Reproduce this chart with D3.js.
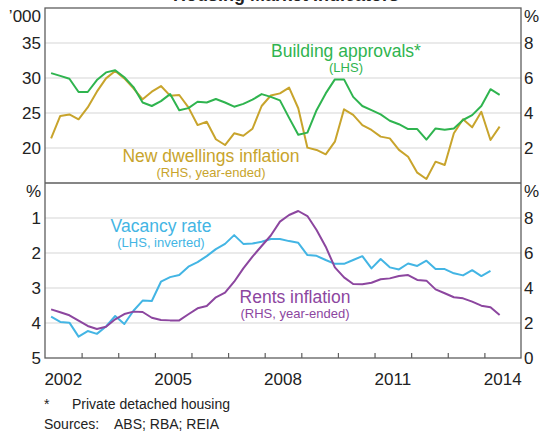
<!DOCTYPE html>
<html lang="en">
<head>
  <meta charset="UTF-8">
  <title>Housing Market Indicators</title>
  <script src="https://d3js.org/d3.v7.min.js"></script>
  <style>
    body { margin: 0; background: #fff; }
    svg { display: block; }
    text { font-family: 'Liberation Sans', Arial, sans-serif; }
  </style>
</head>
<body>
  <div id="canvas"></div>
  <script>
    // quarterly series, Mar qtr 2002 onwards
    const approvals = [30.7, 30.3, 29.9, 28.0, 28.0, 29.7, 30.8, 31.1, 30.1, 28.7,
      26.5, 26.0, 26.7, 27.7, 25.4, 25.7, 26.6, 26.5, 27.0, 26.5,
      25.9, 26.3, 26.9, 27.7, 27.3, 26.8, 24.3, 21.9, 22.2, 25.4,
      27.8, 29.8, 29.8, 27.3, 26.0, 25.4, 24.8, 23.9, 23.4, 22.7,
      22.7, 21.2, 22.8, 22.6, 22.8, 24.0, 24.7, 26.0, 28.4, 27.6];
    const dwellings = [2.55, 3.83, 3.92, 3.64, 4.32, 5.22, 5.98, 6.4, 5.98, 5.41,
      4.78, 5.22, 5.54, 4.99, 5.03, 4.32, 3.31, 3.5, 2.5, 2.17,
      2.84, 2.7, 3.1, 4.4, 5.0, 5.12, 5.45, 4.27, 2.02, 1.89,
      1.64, 2.36, 4.21, 3.89, 3.31, 3.03, 2.65, 2.55, 1.89, 1.5,
      0.59, 0.23, 1.22, 1.03, 2.84, 3.64, 3.18, 4.07, 2.46, 3.22];
    const vacancy = [3.82, 3.97, 3.99, 4.39, 4.23, 4.31, 4.1, 3.8, 4.03, 3.65,
      3.36, 3.37, 2.82, 2.69, 2.63, 2.39, 2.26, 2.09, 1.89, 1.74,
      1.49, 1.74, 1.73, 1.68, 1.6, 1.6, 1.66, 1.71, 2.06, 2.08,
      2.2, 2.31, 2.31, 2.2, 2.09, 2.44, 2.17, 2.41, 2.47, 2.3,
      2.37, 2.22, 2.46, 2.46, 2.58, 2.64, 2.49, 2.66, 2.51];
    const rents = [2.78, 2.61, 2.44, 2.13, 1.83, 1.66, 1.79, 2.21, 2.51, 2.65,
      2.63, 2.3, 2.17, 2.15, 2.15, 2.5, 2.84, 2.97, 3.47, 3.73,
      4.36, 5.12, 5.79, 6.4, 7.0, 7.79, 8.17, 8.4, 8.11, 7.31,
      6.36, 5.18, 4.61, 4.23, 4.21, 4.3, 4.5, 4.55, 4.69, 4.74,
      4.46, 4.42, 3.92, 3.7, 3.47, 3.41, 3.22, 2.99, 2.9, 2.46];

    const yearLabels = [2002, 2005, 2008, 2011, 2014];
    const topLeftTicks = [20, 25, 30, 35];
    const topRightTicks = [2, 4, 6, 8];
    const botLeftTicks = [1, 2, 3, 4, 5];
    const botRightTicks = [0, 2, 4, 6, 8];

    const width = 548;
    const height = 432;
    const padLeft = 45, padRight = 521;
    const yTop = 8, yMid = 183, yBottom = 358;

    const green = '#2fb44f', gold = '#c8a42c', blue = '#43b5e4', purple = '#8c469f';

    const quarter = i => 2002 + (2 + 3 * i) / 12;

    const scaleX = d3.scaleLinear().domain([2002, 2015]).range([padLeft, padRight]);
    const yTopL = d3.scaleLinear().domain([15, 40]).range([yMid, yTop]);
    const yTopR = d3.scaleLinear().domain([0, 10]).range([yMid, yTop]);
    const yBotL = d3.scaleLinear().domain([0, 5]).range([yMid, yBottom]);
    const yBotR = d3.scaleLinear().domain([0, 10]).range([yBottom, yMid]);

    const svg = d3.select('#canvas')
      .append('svg')
      .attr('width', width)
      .attr('height', height);

    // title, cut off at the top edge of the picture
    svg.append('text')
      .attr('x', 173)
      .attr('y', 0.5)
      .style('font-size', '18px')
      .style('font-weight', 'bold')
      .attr('fill', '#222')
      .text('Housing Market Indicators');

    // gridlines
    svg.append('g')
      .selectAll('line')
      .data(topLeftTicks)
      .enter()
      .append('line')
      .attr('x1', padLeft).attr('x2', padRight)
      .attr('y1', d => yTopL(d)).attr('y2', d => yTopL(d))
      .attr('stroke', '#d6d6d6').attr('stroke-width', 1.2);
    svg.append('g')
      .selectAll('line')
      .data(botLeftTicks.slice(0, 4))
      .enter()
      .append('line')
      .attr('x1', padLeft).attr('x2', padRight)
      .attr('y1', d => yBotL(d)).attr('y2', d => yBotL(d))
      .attr('stroke', '#d6d6d6').attr('stroke-width', 1.2);

    // lines
    const drawLine = (values, yScale, colour) => {
      const line = d3.line()
        .x((d, i) => scaleX(quarter(i)))
        .y(d => yScale(d));
      svg.append('path')
        .datum(values)
        .attr('d', line)
        .attr('fill', 'none')
        .attr('stroke', colour)
        .attr('stroke-width', 2)
        .attr('stroke-linejoin', 'round');
    };
    drawLine(dwellings, yTopR, gold);
    drawLine(approvals, yTopL, green);
    drawLine(vacancy, yBotL, blue);
    drawLine(rents, yBotR, purple);

    // frame
    const frame = '#5e5e5e';
    svg.append('rect')
      .attr('x', padLeft).attr('y', yTop)
      .attr('width', padRight - padLeft).attr('height', yBottom - yTop)
      .attr('fill', 'none').attr('stroke', frame).attr('stroke-width', 1.3);
    svg.append('line')
      .attr('x1', padLeft).attr('x2', padRight)
      .attr('y1', yMid).attr('y2', yMid)
      .attr('stroke', frame).attr('stroke-width', 1.6);

    // year ticks on the bottom axis, pointing inwards
    const xAxis = d3.axisBottom(scaleX)
      .tickValues(d3.range(2003, 2015))
      .tickSize(-5)
      .tickFormat('');
    svg.append('g')
      .attr('transform', 'translate(0,' + yBottom + ')')
      .call(xAxis)
      .call(g => g.select('.domain').remove())
      .call(g => g.selectAll('line').attr('stroke', frame).attr('stroke-width', 1.2));

    svg.append('g')
      .selectAll('text')
      .data(yearLabels)
      .enter()
      .append('text')
      .attr('x', d => scaleX(d + 0.5))
      .attr('y', 385)
      .attr('text-anchor', 'middle')
      .style('font-size', '17px')
      .attr('fill', '#222')
      .text(d => d);

    // tick labels
    const tickLabels = (ticks, yScale, x, anchor) => {
      svg.append('g')
        .selectAll('text')
        .data(ticks)
        .enter()
        .append('text')
        .attr('x', x)
        .attr('y', d => yScale(d) + 6)
        .attr('text-anchor', anchor)
        .style('font-size', '17px')
        .attr('fill', '#222')
        .text(d => d);
    };
    tickLabels(topLeftTicks, yTopL, 41, 'end');
    tickLabels(topRightTicks, yTopR, 524, 'start');
    tickLabels(botLeftTicks, yBotL, 41, 'end');
    tickLabels(botRightTicks, yBotR, 524, 'start');

    const unit = (txt, x, y, anchor) => {
      svg.append('text')
        .attr('x', x).attr('y', y)
        .attr('text-anchor', anchor)
        .style('font-size', '17px')
        .attr('fill', '#222')
        .text(txt);
    };
    unit('\u2019000', 41, 22, 'end');
    unit('%', 524, 22, 'start');
    unit('%', 41, 197, 'end');
    unit('%', 524, 197, 'start');

    // series labels
    const label = (main, sub, x, y, colour) => {
      svg.append('text')
        .attr('x', x).attr('y', y)
        .attr('text-anchor', 'middle')
        .style('font-size', '17.5px')
        .attr('fill', colour)
        .text(main);
      svg.append('text')
        .attr('x', x).attr('y', y + 15)
        .attr('text-anchor', 'middle')
        .style('font-size', '13px')
        .attr('fill', colour)
        .text(sub);
    };
    label('Building approvals*', '(LHS)', 346, 57, green);
    label('New dwellings inflation', '(RHS, year-ended)', 211, 162, gold);
    label('Vacancy rate', '(LHS, inverted)', 161, 232, blue);
    label('Rents inflation', '(RHS, year-ended)', 295, 303, purple);

    // notes
    const note = (txt, x, y) => {
      svg.append('text')
        .attr('x', x).attr('y', y)
        .style('font-size', '14px')
        .attr('fill', '#222')
        .text(txt);
    };
    note('*', 44, 409);
    note('Private detached housing', 72, 409);
    note('Sources:', 44, 429);
    note('ABS; RBA; REIA', 114, 429);
  </script>
</body>
</html>
